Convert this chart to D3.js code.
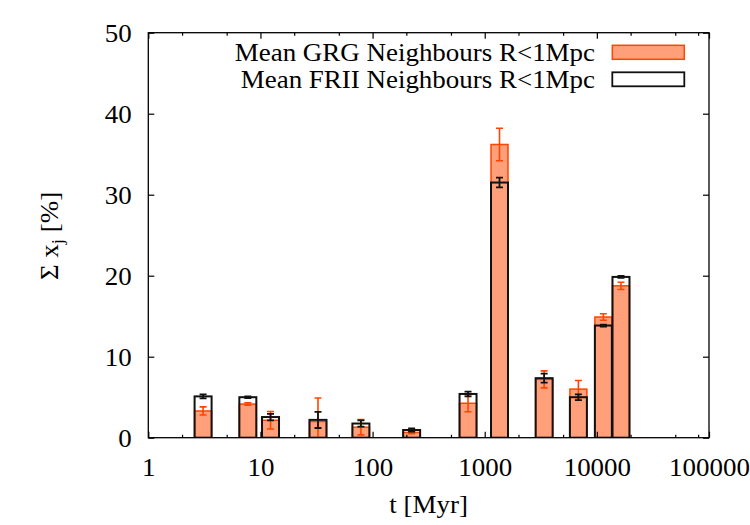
<!DOCTYPE html>
<html><head><meta charset="utf-8">
<script src="https://cdn.jsdelivr.net/npm/d3@7"></script>
<style>
body{margin:0;background:#fff}
svg text{font-family:"Liberation Serif","Times New Roman",serif;fill:#000}
</style>
</head><body>
<svg id="chart" width="750" height="525"></svg>
<script>
// ---- data ----
const ages      = [3.08, 7.72, 12.3, 32.6, 78.7, 223, 710, 1355, 3388, 6843, 11430, 16410];
const grgMean   = [3.3, 4.15, 2.15, 2.0, 1.3, 0.65, 4.25, 36.2, 7.2, 6.0, 14.9, 18.75];
const grgErr    = [0.5, 0.15, 1.08, 2.9, 0.95, 0.15, 1.05, 2.0, 1.05, 1.07, 0.4, 0.45];
const friiMean  = [5.1, 5.0, 2.55, 2.2, 1.75, 0.95, 5.4, 31.5, 7.35, 5.0, 13.85, 19.85];
const friiErr   = [0.25, 0.1, 0.4, 1.0, 0.38, 0.2, 0.3, 0.6, 0.55, 0.35, 0.12, 0.12];
const xTickValues = [1, 10, 100, 1000, 10000, 100000];
const xTickLabels = ["1", "10", "100", "1000", "10000", "100000"];
const xMinorTicks = [2, 5, 20, 50, 200, 500, 2000, 5000, 20000, 50000, 80000];
const yTickValues = [0, 10, 20, 30, 40, 50];
const yTickLabels = ["0", "10", "20", "30", "40", "50"];
const seriesNames = ["Mean GRG Neighbours R<1Mpc", "Mean FRII Neighbours R<1Mpc"];
const xTitle = "t [Myr]";

// ---- layout / style ----
const L = 148.3, R = 709, T = 32.7, B = 437.7;
const barW = 17, capW = 7;
const fill = "#ffa07a", orange = "#ff4500";
const fontSize = 24.5, stretch = 1.1;

const svg = d3.select("#chart");
const x = d3.scaleLog().domain([1, 100000]).range([L, R]);
const y = d3.scaleLinear().domain([0, 50]).range([B, T]);

svg.append("defs").append("clipPath").attr("id", "plot")
  .append("rect").attr("x", L).attr("y", T).attr("width", R - L).attr("height", B - T);

const data = ages.map((a, i) => ({a, g: grgMean[i], ge: grgErr[i], f: friiMean[i], fe: friiErr[i]}));
const plot = svg.append("g").attr("clip-path", "url(#plot)");

// GRG filled boxes
plot.selectAll("rect.grg").data(data).join("rect").attr("class", "grg")
  .attr("x", d => x(d.a) - barW / 2).attr("width", barW)
  .attr("y", d => y(d.g)).attr("height", d => y(0) - y(d.g))
  .attr("fill", fill).attr("stroke", orange).attr("stroke-width", 1.5);

function errBars(g, key, ekey, color, width) {
  const eb = g.append("g").attr("stroke", color).attr("stroke-width", width).attr("fill", "none");
  eb.selectAll("path").data(data).join("path")
    .attr("d", d => {
      const cx = x(d.a), y1 = y(d[key] + d[ekey]), y0 = y(d[key] - d[ekey]);
      return `M${cx},${y1}V${y0}M${cx - capW / 2},${y1}H${cx + capW / 2}M${cx - capW / 2},${y0}H${cx + capW / 2}`;
    });
}
errBars(plot, "g", "ge", orange, 1.6);

// FRII outline boxes
plot.selectAll("rect.frii").data(data).join("rect").attr("class", "frii")
  .attr("x", d => x(d.a) - barW / 2).attr("width", barW)
  .attr("y", d => y(d.f)).attr("height", d => y(0) - y(d.f))
  .attr("fill", "none").attr("stroke", "#111").attr("stroke-width", 2);
errBars(plot, "f", "fe", "#111", 1.8);

// ---- axes ----
function styleAxis(g) {
  g.select(".domain").remove();
  g.selectAll(".tick line").attr("stroke", "#000").attr("stroke-width", 1.2);
}
svg.append("g").attr("transform", `translate(0,${B})`)
  .call(d3.axisBottom(x).tickValues(xTickValues).tickFormat((d, i) => xTickLabels[i]).tickSizeInner(-6).tickSizeOuter(0))
  .call(styleAxis)
  .call(g => g.selectAll("text").attr("y", 0).attr("dy", 0)
    .attr("transform", `translate(0,38) scale(${stretch},1)`)
    .attr("font-size", fontSize).attr("font-family", "Liberation Serif"));
svg.append("g").attr("transform", `translate(0,${B})`)
  .call(d3.axisBottom(x).tickValues(xMinorTicks).tickFormat("").tickSizeInner(-3).tickSizeOuter(0)).call(styleAxis);
svg.append("g").attr("transform", `translate(0,${T})`)
  .call(d3.axisTop(x).tickValues(xTickValues).tickFormat("").tickSizeInner(-6).tickSizeOuter(0)).call(styleAxis);
svg.append("g").attr("transform", `translate(0,${T})`)
  .call(d3.axisTop(x).tickValues(xMinorTicks).tickFormat("").tickSizeInner(-3).tickSizeOuter(0)).call(styleAxis);
svg.append("g").attr("transform", `translate(${L},0)`)
  .call(d3.axisLeft(y).tickValues(yTickValues).tickFormat((d, i) => yTickLabels[i]).tickSizeInner(-6).tickSizeOuter(0))
  .call(styleAxis)
  .call(g => g.selectAll("text").attr("x", 0).attr("dy", 0)
    .attr("transform", `translate(-16.5,8.3) scale(${stretch},1)`)
    .attr("font-size", fontSize).attr("font-family", "Liberation Serif"));
svg.append("g").attr("transform", `translate(${R},0)`)
  .call(d3.axisRight(y).tickValues(yTickValues).tickFormat("").tickSizeInner(-6).tickSizeOuter(0)).call(styleAxis);

// frame
svg.append("rect").attr("x", L).attr("y", T).attr("width", R - L).attr("height", B - T)
  .attr("fill", "none").attr("stroke", "#000").attr("stroke-width", 1.3);

// axis titles
svg.append("text").attr("text-anchor", "middle").attr("font-size", fontSize)
  .attr("transform", `translate(${(L + R) / 2},513) scale(${stretch},1)`).text(xTitle);
const yl = svg.append("text").attr("text-anchor", "middle").attr("font-size", fontSize)
  .attr("transform", `translate(58,236) rotate(-90) scale(${stretch},1)`);
yl.append("tspan").text("Σ x");
yl.append("tspan").attr("dy", 5).attr("font-size", 17).text("j");
yl.append("tspan").attr("dy", -5).text(" [%]");

// legend
const leg = svg.append("g");
const legRows = [
  {name: seriesNames[0], fill: fill, stroke: orange, sw: 1.5},
  {name: seriesNames[1], fill: "#fff", stroke: "#111", sw: 1.8}
];
legRows.forEach((r, i) => {
  const yy = 45.3 + i * 27;
  leg.append("rect").attr("x", 612.3).attr("y", yy).attr("width", 72).attr("height", 14)
    .attr("fill", r.fill).attr("stroke", r.stroke).attr("stroke-width", r.sw);
  leg.append("text").attr("text-anchor", "end").attr("font-size", fontSize)
    .attr("transform", `translate(595,${yy + 16}) scale(${stretch},1)`).text(r.name);
});
</script>
</body></html>
